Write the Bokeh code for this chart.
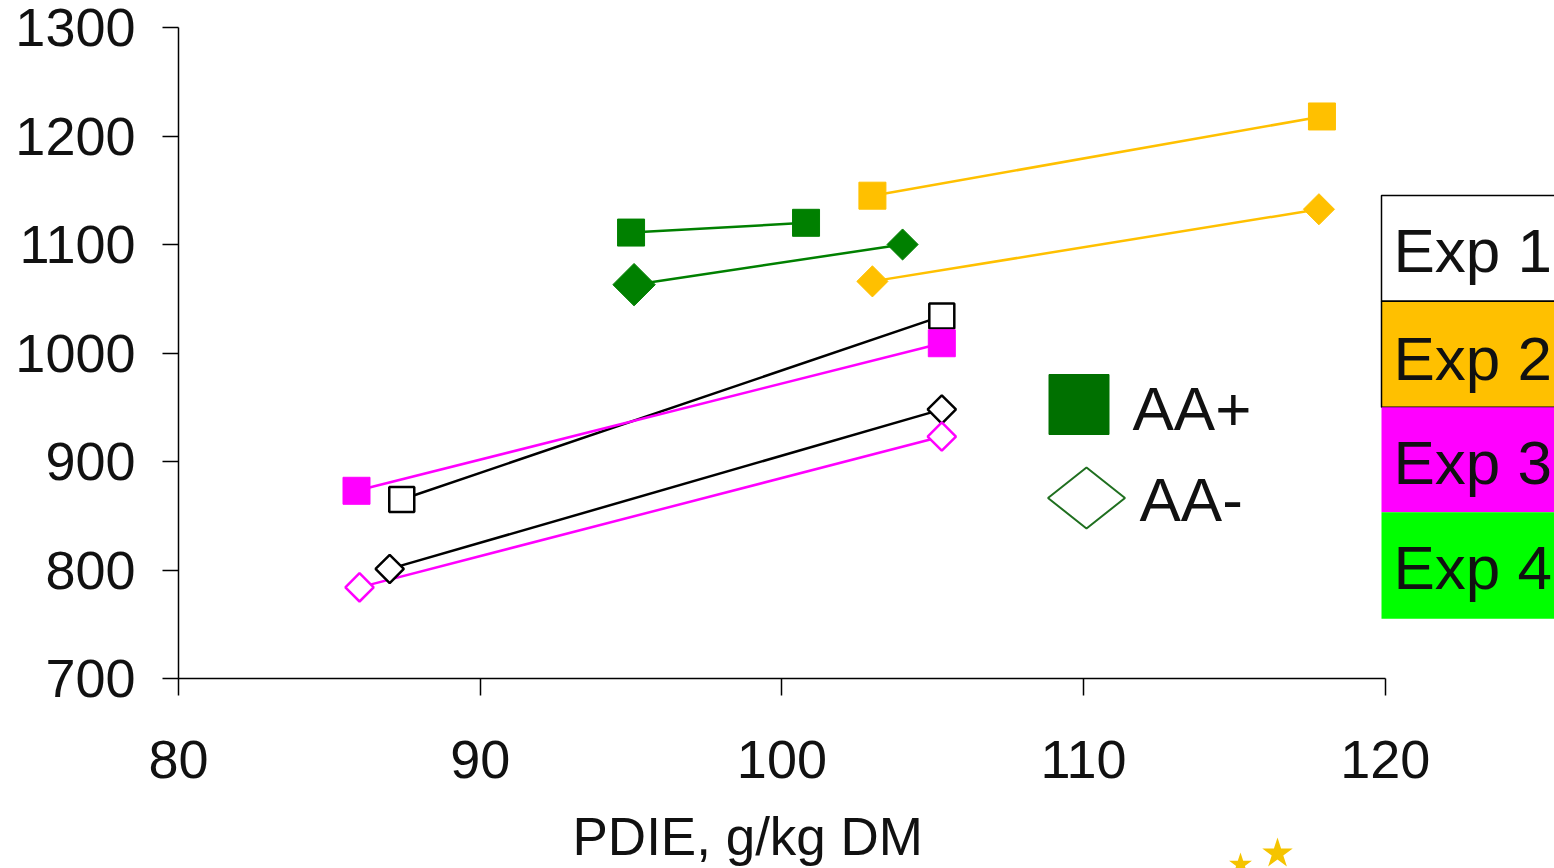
import numpy as np
from bokeh.plotting import figure
from bokeh.layouts import column
from bokeh.models import Range1d, FixedTicker
from bokeh.embed import file_html
from bokeh.resources import INLINE
from bokeh.core.properties import value

# ---------------- data ----------------
exp_names = ["Exp 1", "Exp 2", "Exp 3", "Exp 4"]
exp_colors = ["#000000", "#FFC000", "#FF00FF", "#008000"]
box_colors = ["#FFFFFF", "#FFC000", "#FF00FF", "#00FF00"]

# AA+ (squares)
aa_plus_x = [[87.4, 105.3], [103.0, 117.9], [85.9, 105.3], [95.0, 100.8]]
aa_plus_y = [[865, 1034], [1145, 1218], [873, 1009], [1111, 1120]]
aa_plus_hollow = [True, False, False, False]

# AA- (diamonds)
aa_minus_x = [[87.0, 105.3], [103.0, 117.8], [86.0, 105.3], [95.1, 104.0]]
aa_minus_y = [[801, 948], [1066, 1132.5], [784, 923], [1063, 1100]]
aa_minus_hollow = [True, False, True, False]
aa_minus_sizes = [[22, 22], [22, 22], [22, 22], [30, 22]]

x_ticks = [80, 90, 100, 110, 120]
y_ticks = [700, 800, 900, 1000, 1100, 1200, 1300]
x_label = "PDIE, g/kg DM"
legend_labels = ["AA+", "AA-"]

# ---------------- layout ----------------
W = 1554
H1, H2 = 804, 64          # main chart, strip under it for the axis title
FL, FT = 178, 27
FB = H1 - 678
PXX = 30.17
frame_h = H1 - FT - FB
PXY = frame_h / (y_ticks[-1] - y_ticks[0])
x_end = x_ticks[0] + (W - FL) / PXX
BASE_SHIFT = 0.36  # em, compensation for rendered alphabetic baseline


def dx(px):  # image pixel -> data x
    return x_ticks[0] + (px - FL) / PXX


def dy(py):  # image pixel -> data y
    return y_ticks[0] + ((FT + frame_h) - py) / PXY


def base(py, fs):  # wanted baseline pixel -> data y
    return dy(py - BASE_SHIFT * fs)


p = figure(width=W, height=H1, x_range=Range1d(x_ticks[0], x_end),
           y_range=Range1d(y_ticks[0], y_ticks[-1]),
           output_backend="svg", toolbar_location=None,
           min_border_left=FL, min_border_right=0, min_border_top=FT,
           min_border_bottom=FB)
p.outline_line_color = None
p.xgrid.visible = False
p.ygrid.visible = False
p.background_fill_color = "white"
p.border_fill_color = "white"

p.xaxis.ticker = FixedTicker(ticks=x_ticks)
p.yaxis.ticker = FixedTicker(ticks=y_ticks)
p.xaxis.bounds = (x_ticks[0], x_ticks[-1])
p.yaxis.bounds = (y_ticks[0], y_ticks[-1])
for ax in p.axis:
    ax.axis_line_width = 1.5
    ax.axis_line_color = "black"
    ax.major_tick_line_width = 1.5
    ax.major_tick_line_color = "black"
    ax.major_tick_in = 0
    ax.major_tick_out = 16
    ax.minor_tick_line_color = None
    ax.major_label_text_font = "Liberation Sans"
    ax.major_label_text_font_size = "54px"
    ax.major_label_text_color = "#111111"
p.xaxis.major_tick_out = 17
p.xaxis.major_label_standoff = 45
p.yaxis.major_label_standoff = 27

# ---------------- series ----------------
for i in range(4):
    c = exp_colors[i]
    p.line(aa_plus_x[i], aa_plus_y[i], line_color=c, line_width=2.5)
    p.line(aa_minus_x[i], aa_minus_y[i], line_color=c, line_width=2.5)

for i in range(4):
    c = exp_colors[i]
    if aa_plus_hollow[i]:
        p.scatter(aa_plus_x[i], aa_plus_y[i], marker="square", size=25,
                  fill_color="white", line_color=c, line_width=2.5)
    else:
        p.scatter(aa_plus_x[i], aa_plus_y[i], marker="square", size=27,
                  fill_color=c, line_color=c, line_width=1)
    if aa_minus_hollow[i]:
        p.scatter(aa_minus_x[i], aa_minus_y[i], marker="square", angle=np.pi / 4,
                  size=[s - 2 for s in aa_minus_sizes[i]],
                  fill_color="white", line_color=c, line_width=2.5)
    else:
        p.scatter(aa_minus_x[i], aa_minus_y[i], marker="square", angle=np.pi / 4,
                  size=aa_minus_sizes[i], fill_color=c, line_color=c, line_width=1)

# ---------------- experiment boxes ----------------
tops = [195, 300.7, 406.7, 511.7]
bots = [300.7, 406.7, 511.7, 618.3]
p.quad(left=[dx(1381)] * 2, right=[x_end + 2] * 2,
       top=[dy(t) for t in tops[:2]], bottom=[dy(b) for b in bots[:2]],
       fill_color=box_colors[:2], line_color="black", line_width=1.5)
p.quad(left=[dx(1381)] * 2, right=[x_end + 2] * 2,
       top=[dy(t) for t in tops[2:]], bottom=[dy(b) for b in bots[2:]],
       fill_color=box_colors[2:], line_color=None)
baselines = [272.7, 380, 484, 589]
p.text(x=[dx(1393)] * 4, y=[base(b, 62) for b in baselines], text=exp_names,
       text_font=value("Liberation Sans"), text_font_size="62px",
       text_baseline="alphabetic", text_align="left", text_color="#111111")

# ---------------- AA legend ----------------
p.scatter([dx(1078.5)], [dy(404)], marker="square", size=60,
          fill_color="#007000", line_color="#007000")
p.patch([dx(1047.5), dx(1086), dx(1124.5), dx(1086)],
        [dy(497.5), dy(467), dy(497.5), dy(528)],
        fill_color="white", line_color="#1F6F1F", line_width=2)
p.text(x=[dx(1132), dx(1139)], y=[base(430, 62), base(521, 62)], text=legend_labels,
       text_font=value("Liberation Sans"), text_font_size="62px",
       text_baseline="alphabetic", text_align="left", text_color="#111111")

# ---------------- strip with the axis title and the logo stars ----------------
p2 = figure(width=W, height=H2, x_range=p.x_range, y_range=Range1d(0, H2),
            output_backend="svg", toolbar_location=None,
            x_axis_type=None, y_axis_type=None,
            min_border_left=FL, min_border_right=0, min_border_top=0,
            min_border_bottom=0)
p2.outline_line_color = None
p2.xgrid.visible = False
p2.ygrid.visible = False
p2.background_fill_color = "white"
p2.border_fill_color = "white"

Y2 = H1 + H2  # image y of the strip's bottom


def sy(py):
    return Y2 - py


p2.text(x=[dx(572)], y=[sy(855 - BASE_SHIFT * 53)], text=[x_label],
        text_font=value("Liberation Sans"), text_font_size="53px",
        text_baseline="alphabetic", text_align="left", text_color="#111111")
p2.scatter([dx(1240), dx(1277)], [sy(864), sy(853)], marker="star", size=[24, 32],
           fill_color="#F5C400", line_color=None)

layout = column(p, p2, spacing=0)
open("out.html", "w").write(file_html(layout, INLINE))
